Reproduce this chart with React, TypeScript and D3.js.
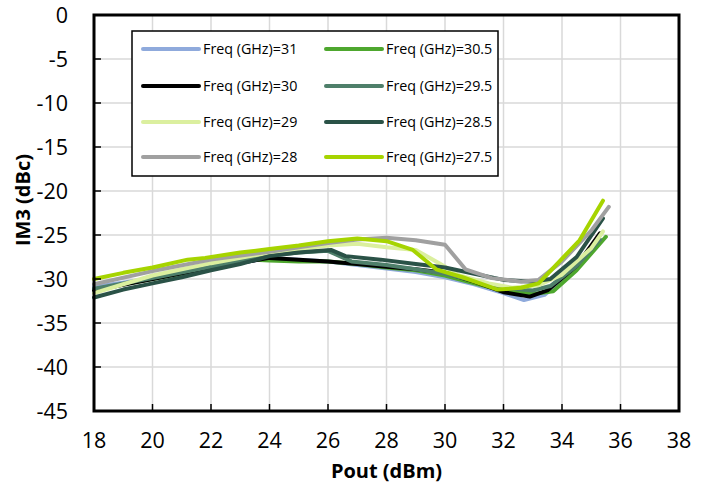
import React from "react";
import * as d3 from "d3";

const xTicks = [18, 20, 22, 24, 26, 28, 30, 32, 34, 36, 38];
const yTicks = [0, -5, -10, -15, -20, -25, -30, -35, -40, -45];

const f31: [number, number][] = [[18,-30.9],[20,-29.9],[22,-28.7],[24,-27.6],[25,-27.8],[26,-28.0],[27,-28.4],[28,-28.8],[29,-29.2],[30,-29.8],[31,-30.6],[32,-31.6],[32.7,-32.4],[33.4,-31.8],[34.5,-28.8],[35.3,-25.0]];
const f305: [number, number][] = [[18,-31.2],[20,-30.0],[22,-28.8],[23.5,-27.8],[24,-27.9],[25,-28.0],[26,-28.0],[27,-28.3],[28,-28.7],[29,-29.0],[30,-29.6],[31,-30.5],[32,-31.3],[33,-31.7],[33.7,-31.4],[34.5,-29.0],[35.5,-25.2]];
const f30: [number, number][] = [[18,-31.3],[20,-30.0],[22,-28.7],[24,-27.6],[25,-27.8],[26,-28.0],[27,-28.3],[28,-28.6],[29,-28.9],[30,-29.3],[31,-30.3],[32,-31.5],[32.9,-32.0],[33.5,-31.3],[34.5,-28.5],[35.3,-24.8]];
const f295: [number, number][] = [[18,-31.1],[20,-29.9],[22,-28.6],[24,-27.3],[25,-27.0],[26,-26.8],[26.8,-28.0],[28,-28.4],[29,-28.9],[30,-29.4],[31,-30.2],[32,-31.0],[33,-31.3],[33.6,-30.8],[34.5,-28.5],[35.3,-25.5]];
const f29: [number, number][] = [[18,-31.6],[19,-30.6],[20,-29.6],[22,-28.2],[24,-27.0],[25,-26.6],[26,-26.2],[27,-26.0],[28,-26.4],[29,-26.7],[29.8,-28.2],[30.5,-29.6],[31.5,-30.5],[32.3,-31.0],[33.2,-30.7],[34,-29.5],[35,-26.5],[35.4,-24.6]];
const f285: [number, number][] = [[18,-32.1],[19,-31.2],[20,-30.5],[21,-29.8],[22,-29.0],[23,-28.3],[24,-27.4],[25,-27.0],[26.1,-26.7],[26.6,-27.4],[27.8,-27.8],[29,-28.3],[30,-28.7],[31,-29.4],[32,-30.1],[33,-30.3],[33.6,-30.0],[34.5,-27.5],[35.4,-23.1]];
const f28: [number, number][] = [[18,-30.6],[20,-29.1],[22,-27.8],[24,-26.9],[25,-26.4],[26,-25.9],[27,-25.5],[28,-25.3],[29,-25.6],[30,-26.1],[30.7,-28.9],[31.6,-29.9],[32.6,-30.3],[33.2,-30.1],[34,-28.0],[35,-24.5],[35.6,-21.8]];
const f275: [number, number][] = [[18,-30.0],[19,-29.3],[20,-28.7],[21.2,-27.8],[21.8,-27.6],[23,-27.0],[24,-26.6],[25,-26.2],[26,-25.7],[27,-25.4],[28,-25.7],[28.9,-26.7],[29.7,-28.9],[30.6,-29.8],[31.8,-31.2],[32.6,-31.0],[33.2,-30.5],[33.8,-28.4],[34.6,-25.6],[35.4,-21.1]];

const seriesNames = ["Freq (GHz)=31","Freq (GHz)=30.5","Freq (GHz)=30","Freq (GHz)=29.5","Freq (GHz)=29","Freq (GHz)=28.5","Freq (GHz)=28","Freq (GHz)=27.5"];
const seriesData = [f31, f305, f30, f295, f29, f285, f28, f275];
const seriesColors = ["#8faadc","#4ea72e","#000000","#4e7f6a","#dbef9f","#2a5247","#a0a0a0","#a6d400"];

export default function App() {
  const W = 705, H = 493;
  const L = 94, R = 679, T = 15, B = 411;
  const x = d3.scaleLinear().domain([18, 38]).range([L, R]);
  const y = d3.scaleLinear().domain([-45, 0]).range([B, T]);
  const line = d3.line<[number, number]>().x(d => x(d[0])).y(d => y(d[1]));
  const font = "'Open Sans', sans-serif";

  const legX = 132, legY = 31, legW = 366, legH = 145;
  const rowY = [49, 86, 122, 157];
  const colX = [143, 326];

  return (
    <svg width={W} height={H} style={{ position: "absolute", left: 0, top: 0, background: "#fff" }} fontFamily={font}>
      {xTicks.map(t => (
        <line key={"gx" + t} x1={x(t)} x2={x(t)} y1={T} y2={B} stroke="#d9d9d9" strokeWidth={1.5} />
      ))}
      {yTicks.map(t => (
        <line key={"gy" + t} x1={L} x2={R} y1={y(t)} y2={y(t)} stroke="#d9d9d9" strokeWidth={1.5} />
      ))}
      {seriesData.map((d, i) => (
        <path key={"s" + i} d={line(d) || ""} fill="none" stroke={seriesColors[i]} strokeWidth={4} strokeLinejoin="round" strokeLinecap="round" />
      ))}
      <rect x={L} y={T} width={R - L} height={B - T} fill="none" stroke="#000" strokeWidth={3} />
      {yTicks.map(t => (
        <line key={"ty" + t} x1={L} x2={L + 7} y1={y(t)} y2={y(t)} stroke="#000" strokeWidth={1.5} />
      ))}
      {xTicks.map(t => (
        <line key={"tx" + t} x1={x(t)} x2={x(t)} y1={B} y2={B - 7} stroke="#000" strokeWidth={1.5} />
      ))}
      {yTicks.map(t => (
        <text key={"ly" + t} x={68} y={y(t)} dy="0.35em" textAnchor="end" fontSize={21.5} fill="#000">{t}</text>
      ))}
      {xTicks.map(t => (
        <text key={"lx" + t} x={x(t)} y={440} dy="0.35em" textAnchor="middle" fontSize={21.5} fill="#000">{t}</text>
      ))}
      <text x={(L + R) / 2} y={471} dy="0.35em" textAnchor="middle" fontSize={20} fontWeight="bold">Pout (dBm)</text>
      <text transform={`translate(23,200) rotate(-90)`} dy="0.35em" textAnchor="middle" fontSize={20} fontWeight="bold">IM3 (dBc)</text>

      <rect x={legX} y={legY} width={legW} height={legH} fill="#fff" stroke="#000" strokeWidth={1.5} />
      {seriesNames.map((n, i) => {
        const cx = colX[i % 2];
        const cy = rowY[Math.floor(i / 2)];
        return (
          <g key={"lg" + i}>
            <line x1={cx} x2={cx + 56} y1={cy} y2={cy} stroke={seriesColors[i]} strokeWidth={4} strokeLinecap="round" />
            <text x={cx + 60} y={cy} dy="0.35em" fontSize={14.3} fill="#000">{n}</text>
          </g>
        );
      })}
    </svg>
  );
}
